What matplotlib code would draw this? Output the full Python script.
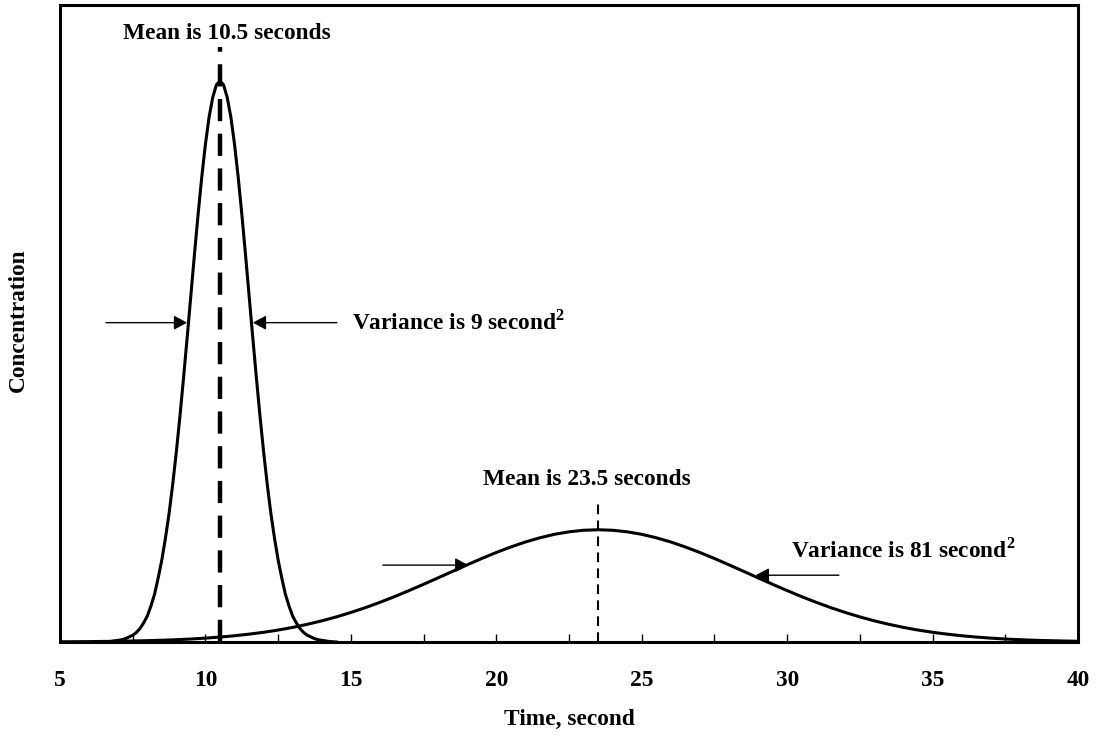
import matplotlib
matplotlib.use("Agg")
import matplotlib.pyplot as plt
from matplotlib.ticker import MultipleLocator

plt.rcParams['font.family'] = ['Liberation Serif', 'DejaVu Serif']
plt.rcParams['font.weight'] = 'bold'
plt.rcParams['mathtext.fontset'] = 'custom'
plt.rcParams['mathtext.rm'] = 'Liberation Serif:bold'
plt.rcParams['mathtext.bf'] = 'Liberation Serif:bold'
plt.rcParams['lines.scale_dashes'] = False

# narrow peak (mean 10.5 s), concentration, peak = 1
t_narrow = [6.5, 6.625, 6.75, 6.875, 7, 7.125, 7.25, 7.375, 7.5, 7.625, 7.75, 7.875,
            8, 8.125, 8.25, 8.375, 8.5, 8.625, 8.75, 8.875, 9, 9.125, 9.25, 9.375,
            9.5, 9.625, 9.75, 9.875, 10, 10.125, 10.25, 10.375, 10.5,
            10.625, 10.75, 10.875, 11, 11.125, 11.25, 11.375, 11.5,
            11.625, 11.75, 11.875, 12, 12.125, 12.25, 12.375, 12.5, 12.625, 12.75, 12.875,
            13, 13.125, 13.25, 13.375, 13.5, 13.625, 13.75, 13.875, 14, 14.25, 14.5]
c_narrow = [0.0, 0.0003, 0.001, 0.002, 0.003, 0.004, 0.006, 0.009, 0.012, 0.017, 0.024, 0.034,
            0.046, 0.064, 0.085, 0.114, 0.146, 0.185, 0.229, 0.281, 0.339, 0.403, 0.472, 0.544,
            0.618, 0.692, 0.763, 0.829, 0.887, 0.935, 0.970, 0.9925, 1.0,
            0.9925, 0.970, 0.935, 0.887, 0.829, 0.763, 0.692, 0.618,
            0.544, 0.472, 0.403, 0.339, 0.281, 0.229, 0.185, 0.146, 0.114, 0.085, 0.064,
            0.046, 0.034, 0.024, 0.017, 0.012, 0.009, 0.006, 0.004, 0.003, 0.001, 0.0]

# wide peak (mean 23.5 s), every half second from 5 to 40
t_wide = [5 + 0.5 * i for i in range(71)]
c_wide = [0.0004, 0.0005, 0.0007, 0.0010, 0.0013, 0.0018, 0.0024, 0.0031, 0.0041, 0.0053,
          0.0069, 0.0088, 0.0111, 0.0140, 0.0173, 0.0213, 0.0260, 0.0315, 0.0377, 0.0447,
          0.0526, 0.0612, 0.0707, 0.0808, 0.0916, 0.1028, 0.1143, 0.1260, 0.1375, 0.1488,
          0.1595, 0.1693, 0.1782, 0.1857, 0.1919, 0.1963, 0.1991, 0.2,
          0.1991, 0.1963, 0.1919, 0.1857, 0.1782, 0.1693, 0.1595, 0.1488, 0.1375, 0.1260,
          0.1143, 0.1028, 0.0916, 0.0808, 0.0707, 0.0612, 0.0526, 0.0447, 0.0377, 0.0315,
          0.0260, 0.0213, 0.0173, 0.0140, 0.0111, 0.0088, 0.0069, 0.0053, 0.0041, 0.0031,
          0.0024, 0.0018, 0.0013]

mean1, mean2 = 10.5, 23.5
x_ticks = [5, 10, 15, 20, 25, 30, 35, 40]
fs = 16.8

fig = plt.figure(figsize=(10.98, 7.38), dpi=100)
ax = fig.add_axes([60/1098, 96/738, 1018/1098, 637/738])

ax.plot(t_narrow, c_narrow, color='black', lw=2.2, solid_joinstyle='round')
ax.plot(t_wide, c_wide, color='black', lw=2.2, solid_joinstyle='round')

ax.plot([mean1, mean1], [0, 1.061], color='black', lw=3.2, dashes=[16, 9])
ax.plot([mean2, mean2], [0, 0.255], color='black', lw=1.5, dashes=[7, 4.5])

ax.text(10.73, 1.085, 'Mean is 10.5 seconds', ha='center', va='center', fontsize=fs, fontweight='bold')
ax.text(23.12, 0.290, 'Mean is 23.5 seconds', ha='center', va='center', fontsize=fs, fontweight='bold')
ax.text(15.05, 0.570, r'Variance is 9 second$^{2}$', ha='left', va='center', fontsize=fs, fontweight='bold')
ax.text(30.14, 0.164, r'Variance is 81 second$^{2}$', ha='left', va='center', fontsize=fs, fontweight='bold')

arrows = [((6.58, 0.569), (9.37, 0.569)),
          ((14.52, 0.569), (11.63, 0.569)),
          ((16.1, 0.137), (19.04, 0.137)),
          ((31.78, 0.119), (28.92, 0.119))]
for tail, tip in arrows:
    ax.annotate('', xy=tip, xytext=tail,
                arrowprops=dict(arrowstyle='-|>,head_length=0.8,head_width=0.43',
                                mutation_scale=10, color='black', lw=1.0,
                                shrinkA=0, shrinkB=0))

ax.set_xlim(5, 40)
ax.set_ylim(0, 1.135)
ax.set_xticks(x_ticks)
ax.set_xticklabels([str(v) for v in x_ticks])
ax.xaxis.set_minor_locator(MultipleLocator(2.5))
ax.tick_params(axis='x', which='both', direction='in', length=6, width=1.0, pad=20, labelsize=fs)
ax.set_yticks([])
for s in ax.spines.values():
    s.set_linewidth(2.2)

ax.set_xlabel('Time, second', fontsize=fs, fontweight='bold')
ax.xaxis.set_label_coords(0.5, -0.105)
fig.text(18/1098, 1 - 320/738, 'Concentration', rotation=90, ha='center', va='center',
         fontsize=fs, fontweight='bold')

fig.savefig('out.png', dpi=100)
